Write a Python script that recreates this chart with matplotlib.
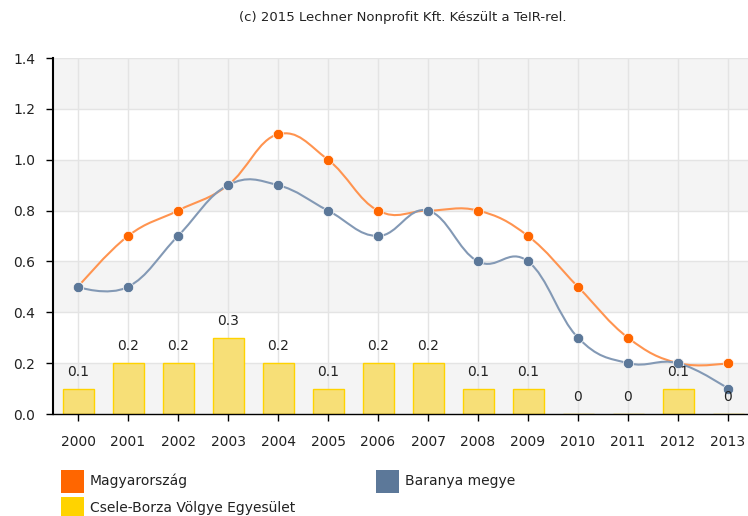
import matplotlib
matplotlib.use("Agg")
import matplotlib.pyplot as plt
from matplotlib.path import Path
from matplotlib.patches import PathPatch, Rectangle

years = ["2000", "2001", "2002", "2003", "2004", "2005", "2006",
         "2007", "2008", "2009", "2010", "2011", "2012", "2013"]
magyarorszag = [0.5, 0.7, 0.8, 0.9, 1.1, 1.0, 0.8, 0.8, 0.8, 0.7, 0.5, 0.3, 0.2, 0.2]
baranya = [0.5, 0.5, 0.7, 0.9, 0.9, 0.8, 0.7, 0.8, 0.6, 0.6, 0.3, 0.2, 0.2, 0.1]
csele = [0.1, 0.2, 0.2, 0.3, 0.2, 0.1, 0.2, 0.2, 0.1, 0.1, 0, 0, 0.1, 0]
yticks = [0.0, 0.2, 0.4, 0.6, 0.8, 1.0, 1.2, 1.4]

ORANGE = "#FF6600"
ORANGE_LINE = "#FF9450"
BLUE = "#5C7899"
BLUE_LINE = "#8399B5"
YELLOW = "#FFD300"


def spline_path(xs, ys, smoothing=1.5):
    # smooth curve through the points, tangent parallel to neighbours line
    n = len(xs)
    left = [(x, y) for x, y in zip(xs, ys)]
    right = [(x, y) for x, y in zip(xs, ys)]
    denom = smoothing + 1
    for i in range(1, n - 1):
        px, py = xs[i], ys[i]
        lx, ly = xs[i - 1], ys[i - 1]
        nx, ny = xs[i + 1], ys[i + 1]
        lcx = (smoothing * px + lx) / denom
        lcy = (smoothing * py + ly) / denom
        rcx = (smoothing * px + nx) / denom
        rcy = (smoothing * py + ny) / denom
        corr = (rcy - lcy) * (rcx - px) / (rcx - lcx) + py - rcy
        left[i] = (lcx, lcy + corr)
        right[i] = (rcx, rcy + corr)
    verts = [(xs[0], ys[0])]
    codes = [Path.MOVETO]
    for i in range(1, n):
        verts += [right[i - 1], left[i], (xs[i], ys[i])]
        codes += [Path.CURVE4] * 3
    return Path(verts, codes)


fig = plt.figure(figsize=(7.48, 5.16), dpi=100)
ax = fig.add_axes([53 / 748, 102 / 516, 695 / 748, 356 / 516])

x = list(range(len(years)))

# alternating bands
for i in range(len(yticks) - 1):
    if (len(yticks) - 2 - i) % 2 == 0:
        ax.axhspan(yticks[i], yticks[i + 1], color="#F4F4F4", zorder=0, lw=0)
for yv in yticks[1:]:
    ax.axhline(yv, color="#E4E4E4", lw=1, zorder=0.5)
for xv in x:
    ax.axvline(xv, color="#E4E4E4", lw=1, zorder=0.5)

ax.bar(x, csele, width=0.62, color="#F7DF77", edgecolor=YELLOW, lw=1, zorder=2)
for xi, v in zip(x, csele):
    ax.annotate(f"{v:g}", (xi, v), xytext=(0, 12), textcoords="offset points",
                ha="center", va="center", fontsize=10, color="#222222", zorder=5)

ax.add_patch(PathPatch(spline_path(x, magyarorszag), fill=False, ec=ORANGE_LINE, lw=1.5, zorder=3))
ax.add_patch(PathPatch(spline_path(x, baranya), fill=False, ec=BLUE_LINE, lw=1.5, zorder=3))
ax.plot(x, magyarorszag, "o", color=ORANGE, ms=7.5, mec="white", mew=0.5, zorder=4)
ax.plot(x, baranya, "o", color=BLUE, ms=7.5, mec="white", mew=0.5, zorder=4)

ax.set_xlim(-0.5, 13.4)
ax.set_ylim(0, 1.4)
ax.set_yticks(yticks)
ax.set_yticklabels([f"{v:.1f}" for v in yticks])
ax.set_xticks(x)
ax.set_xticklabels(years)
ax.tick_params(axis="both", labelsize=10, length=5, width=1, color="black", labelcolor="#222222")
ax.tick_params(axis="x", pad=10)
ax.tick_params(axis="y", pad=8)
for s in ["top", "right"]:
    ax.spines[s].set_visible(False)
ax.spines["left"].set_linewidth(1.5)
ax.spines["bottom"].set_linewidth(1)

fig.text(403 / 748, 1 - 18 / 516, "(c) 2015 Lechner Nonprofit Kft. Készült a TeIR-rel.",
         ha="center", va="center", fontsize=9.5, color="#222222")

# legend drawn by hand
legend = [("Magyarország", ORANGE, 61, 481), ("Baranya megye", BLUE, 376, 481),
          ("Csele-Borza Völgye Egyesület", YELLOW, 61, 508)]
for label, col, lx, ly in legend:
    fig.add_artist(Rectangle((lx / 748, 1 - (ly + 11.5) / 516), 23 / 748, 23 / 516,
                             transform=fig.transFigure, color=col, lw=0))
    fig.text((lx + 29) / 748, 1 - ly / 516, label, ha="left", va="center",
             fontsize=10, color="#222222")

fig.savefig("out.png", dpi=100)
